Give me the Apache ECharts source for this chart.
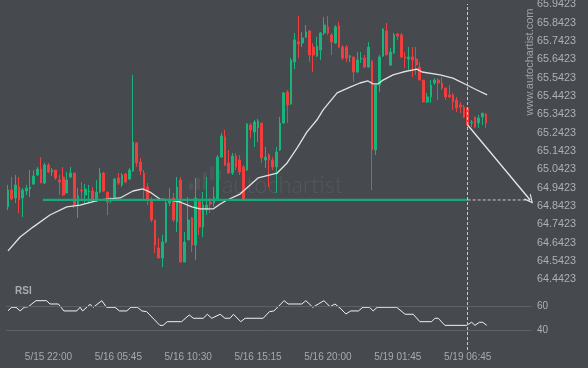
<!DOCTYPE html>
<html><head><meta charset="utf-8">
<script src="https://cdn.jsdelivr.net/npm/echarts@6/dist/echarts.min.js"></script>
<style>html,body{margin:0;padding:0;background:#46494d;}#c{width:588px;height:368px;}</style>
</head><body><div id="c"></div>
<script>
// ---- Data (15-minute candles) ----
const openP = [64.837,64.929,64.886,64.946,64.886,64.924,64.935,64.962,65.011,65.044,
64.967,65.066,65.028,65.038,64.984,65.000,64.913,65.000,65.022,64.847,
64.929,64.902,64.918,64.924,64.869,64.918,65.022,64.918,64.869,64.875,
64.995,64.957,65.017,64.989,65.033,65.186,65.082,65.022,64.946,64.875,
64.766,64.613,64.558,64.646,64.858,64.886,64.755,64.984,64.536,64.657,
64.777,64.629,64.875,64.727,64.820,64.864,64.858,64.875,65.109,65.219,
65.077,65.022,65.115,65.093,65.055,65.038,65.284,65.246,65.268,65.295,
65.093,65.120,65.093,65.055,65.148,65.295,65.464,65.399,65.628,65.737,
65.731,65.764,65.797,65.709,65.660,65.693,65.786,65.819,65.775,65.731,
65.824,65.709,65.709,65.655,65.655,65.573,65.644,65.649,65.600,65.633,
65.148,65.502,65.660,65.797,65.611,65.677,65.780,65.775,65.655,65.644,
65.655,65.644,65.600,65.529,65.409,65.437,65.513,65.529,65.513,65.486,
65.448,65.448,65.420,65.393,65.382,65.377,65.295,65.328,65.295,65.328,65.344];
const closeP = [64.929,64.880,64.957,64.875,64.929,64.940,64.946,65.006,65.044,64.967,
65.066,65.028,65.038,64.995,64.973,64.902,64.984,65.022,64.847,64.897,
64.924,64.935,64.924,64.875,64.918,65.022,64.924,64.864,64.880,64.989,
64.967,65.011,64.973,65.038,65.191,65.077,65.033,64.929,64.875,64.766,
64.629,64.558,64.646,64.858,64.875,64.766,64.946,64.536,64.646,64.766,
64.629,64.886,64.727,64.847,64.847,64.853,64.891,65.109,65.224,65.066,
65.022,65.115,65.055,65.028,64.875,65.289,65.257,65.300,65.306,65.104,
65.109,65.093,65.055,65.137,65.295,65.459,65.393,65.639,65.748,65.726,
65.759,65.791,65.666,65.666,65.715,65.786,65.829,65.786,65.737,65.819,
65.709,65.649,65.649,65.660,65.573,65.639,65.649,65.600,65.709,65.148,
65.502,65.655,65.808,65.666,65.682,65.775,65.769,65.655,65.649,65.655,
65.639,65.611,65.529,65.409,65.437,65.502,65.529,65.513,65.486,65.437,
65.437,65.409,65.377,65.382,65.328,65.284,65.300,65.273,65.322,65.349,65.295];
const lowP = [64.820,64.875,64.858,64.804,64.782,64.902,64.891,64.957,65.006,64.967,
64.962,65.022,65.006,64.984,64.902,64.897,64.913,64.995,64.831,64.777,
64.875,64.858,64.858,64.864,64.864,64.913,64.918,64.793,64.858,64.869,
64.957,64.946,64.967,64.984,65.028,65.055,65.011,64.875,64.847,64.755,
64.586,64.558,64.509,64.640,64.842,64.755,64.700,64.536,64.536,64.657,
64.591,64.547,64.684,64.673,64.793,64.804,64.837,64.869,65.104,65.060,
65.017,65.011,65.038,65.011,64.869,65.033,65.213,65.164,65.191,65.077,
65.049,64.946,65.038,64.913,65.142,65.289,65.295,65.393,65.589,65.649,
65.709,65.759,65.628,65.573,65.655,65.639,65.775,65.775,65.666,65.726,
65.704,65.639,65.628,65.628,65.519,65.568,65.622,65.595,65.595,64.929,
65.120,65.464,65.655,65.666,65.606,65.671,65.748,65.649,65.595,65.584,
65.546,65.557,65.529,65.409,65.404,65.404,65.502,65.420,65.475,65.420,
65.431,65.366,65.355,65.349,65.322,65.284,65.273,65.268,65.268,65.284,65.268];
const highP = [64.957,65.000,65.011,65.000,64.940,64.957,65.038,65.038,65.055,65.109,
65.077,65.077,65.049,65.038,65.011,65.055,65.028,65.055,65.022,64.940,
64.973,64.962,64.957,64.946,64.984,65.049,65.028,64.918,64.891,64.995,
65.022,65.022,65.022,65.049,65.557,65.191,65.104,65.038,64.967,64.891,
64.766,64.667,64.684,64.875,64.940,64.913,65.000,65.000,64.700,64.891,
64.782,64.995,64.875,64.918,65.000,64.886,64.946,65.120,65.240,65.257,
65.148,65.131,65.131,65.120,65.066,65.295,65.295,65.311,65.317,65.295,
65.164,65.131,65.109,65.164,65.328,65.464,65.475,65.649,65.786,65.879,
65.791,65.829,65.802,65.731,65.764,65.791,65.873,65.879,65.786,65.829,
65.846,65.720,65.720,65.666,65.655,65.682,65.682,65.666,65.737,65.639,
65.502,65.666,65.813,65.840,65.704,65.786,65.786,65.786,65.682,65.709,
65.709,65.709,65.628,65.529,65.459,65.529,65.540,65.540,65.546,65.486,
65.502,65.459,65.437,65.409,65.393,65.377,65.311,65.328,65.339,65.349,65.349];

// moving average: positions in candle units
const maPos = [0,3.3,6.8,11.4,16.0,19.6,25.0,30.5,34.0,36.7,38.6,41.3,44.1,46.8,50.0,52.2,55.8,57.7,59.6,63.1,68.0,73.2,75.9,78.6,81.3,84.0,85.7,89.5,93.0,95.7,97.9,99.3,100.6,102.0,104.7,107.4,111.2,112.6,117.5,121.0,124.8,127.5,130.3];
const maVal = [64.597,64.673,64.727,64.793,64.837,64.847,64.875,64.886,64.924,64.935,64.918,64.880,64.875,64.864,64.837,64.826,64.826,64.853,64.875,64.907,64.995,65.022,65.077,65.158,65.246,65.311,65.366,65.459,65.491,65.513,65.524,65.508,65.508,65.529,65.557,65.573,65.589,65.573,65.557,65.540,65.502,65.475,65.448];

// RSI
const rsiPos = [0,1.0,2.2,3.3,4.4,5.5,7.6,10.5,11.4,13.7,15.2,18.7,19.6,20.3,22.3,23.2,25.5,26.8,29.1,30.3,32.3,33.4,35.2,36.4,37.7,41.3,42.2,43.3,47.2,49.3,50.4,53.1,54.2,55.4,57.7,59.0,60.4,61.3,63.3,64.5,69.4,71.1,72.3,75.1,76.2,79.9,81.0,82.9,84.4,85.9,87.6,88.9,90.3,91.9,93.2,95.3,96.5,98.3,99.3,100.4,105.7,108.0,110.2,112.0,115.2,116.1,117.0,118.8,124.7,126.1,127.0,128.2,129.1,130.2];
const rsiVal = [56.6,59.5,59.5,56.4,59.5,60,65.1,65.1,62.3,62.3,56.4,56.4,59.5,56.4,62,59.5,65.1,59.5,59.5,56.4,56.4,59.5,59.5,56.4,55.8,44.2,44.2,47.3,47.3,53,50.2,50.2,53.6,50.2,53.6,50.2,50.2,53.6,47.3,50.2,50.2,55.8,56.4,65.1,62.3,62.3,65.1,59.5,62.3,65.1,60,62.3,58.9,53.8,56.4,56.4,59.5,59.5,56.4,59.5,59.5,53.6,53.6,47.3,47.3,50.2,50.2,44.2,44.2,46.8,44.2,46.8,46.8,44.2];

// pattern / forecast
const levelPrice = 64.875;
const levelStart = 9.5;
const signalIndex = 125;
const signalPrice = 65.284;
const targetIndex = 142;

// ticks
const yTicks = [64.4423,64.5423,64.6423,64.7423,64.8423,64.9423,65.0423,65.1423,65.2423,65.3423,65.4423,65.5423,65.6423,65.7423,65.8423,65.9423];
const rsiTicks = [40, 60];
const tickLabels = ['5/15 22:00','5/16 05:45','5/16 10:30','5/16 15:15','5/16 20:00','5/19 01:45','5/19 06:45'];
const tickIndex = [11,30,49,68,87,106,125];

const futureSlots = 12;
const slotCount = openP.length + futureSlots;
const cats = [];
for (let i = 0; i < slotCount; i++) cats.push(String(i));
const candles = openP.map((o, i) => [o, closeP[i], lowP[i], highP[i]]);

const GREEN = '#19b47c', RED = '#f23d3d', LABEL = '#aeb1b4';
const gl = 6.16, gr = 56;
const chevron = 'path://M50,0 L100,100 L86,100 L50,28 L14,100 L0,100 Z';

const chart = echarts.init(document.getElementById('c'), null, {renderer: 'canvas'});
chart.setOption({
  animation: false,
  backgroundColor: '#46494d',
  textStyle: {fontFamily: 'Liberation Sans, Arial, sans-serif'},
  grid: [
    {left: gl, right: gr, top: 4.3, height: 275, containLabel: false, outerBoundsMode: 'none'},
    {left: gl, right: gr, top: 294.9, height: 47.2, containLabel: false, outerBoundsMode: 'none'},
    {left: gl, right: gr, top: 4, height: 346, containLabel: false, outerBoundsMode: 'none'}
  ],
  xAxis: [
    {type: 'category', gridIndex: 0, data: cats, show: false, boundaryGap: true},
    {type: 'value', gridIndex: 0, min: -0.5, max: slotCount - 0.5, show: false},
    {type: 'category', gridIndex: 1, data: cats, boundaryGap: true,
      axisLine: {show: false}, axisTick: {show: false}, splitLine: {show: false},
      axisLabel: {interval: (idx) => tickIndex.indexOf(idx) >= 0,
        formatter: (v, idx) => { const k = tickIndex.indexOf(idx); return k >= 0 ? tickLabels[k] : ''; },
        color: '#a7aaad', fontSize: 10, margin: 10, hideOverlap: false}},
    {type: 'value', gridIndex: 1, min: -0.5, max: slotCount - 0.5, show: false},
    {type: 'value', gridIndex: 2, min: -0.5, max: slotCount - 0.5, show: false}
  ],
  yAxis: [
    {type: 'value', gridIndex: 0, position: 'right', min: yTicks[0], max: yTicks[yTicks.length - 1], scale: true,
      axisLine: {show: false}, axisTick: {show: false}, splitLine: {show: false},
      axisLabel: {customValues: yTicks, formatter: (v) => v.toFixed(4), color: LABEL, fontSize: 10.8, margin: 5}},
    {type: 'value', gridIndex: 1, position: 'right', min: 30, max: 70,
      axisLine: {show: false}, axisTick: {show: false}, splitLine: {show: false},
      axisLabel: {customValues: rsiTicks, color: LABEL, fontSize: 10, margin: 5}},
    {type: 'value', gridIndex: 2, min: 0, max: 1, show: false}
  ],
  series: [
    {type: 'candlestick', xAxisIndex: 0, yAxisIndex: 0, data: candles, barWidth: 2.2,
      itemStyle: {color: GREEN, color0: RED, borderColor: GREEN, borderColor0: RED, borderWidth: 1}},
    {type: 'line', xAxisIndex: 1, yAxisIndex: 0, data: maPos.map((x, k) => [x, maVal[k]]),
      symbol: 'none', lineStyle: {color: '#e2e2e2', width: 1.3}, z: 3},
    {type: 'line', xAxisIndex: 1, yAxisIndex: 0, data: [[levelStart, levelPrice], [signalIndex, levelPrice]],
      symbol: 'none', lineStyle: {color: '#1aa87a', width: 2.2}, z: 4},
    {type: 'line', xAxisIndex: 1, yAxisIndex: 0, data: [[signalIndex, levelPrice], [targetIndex, levelPrice]],
      symbol: 'none', lineStyle: {color: '#c9c9c9', width: 1, type: [3, 2]}, z: 4,
      markLine: {silent: true, symbol: ['none', chevron], symbolSize: [9, 9], label: {show: false},
        lineStyle: {color: '#e6e6e6', width: 1.3, type: 'solid'},
        data: [[{coord: [signalIndex, signalPrice]}, {coord: [targetIndex, levelPrice]}]]}},
    {type: 'line', xAxisIndex: 3, yAxisIndex: 1, data: rsiPos.map((x, k) => [x, rsiVal[k]]),
      symbol: 'none', lineStyle: {color: '#f2f2f2', width: 1}, z: 3,
      markLine: {silent: true, symbol: ['none', 'none'], label: {show: false},
        lineStyle: {color: '#5d6064', width: 1, type: 'solid'},
        data: rsiTicks.map(v => ({yAxis: v}))}},
    {type: 'line', xAxisIndex: 4, yAxisIndex: 2, data: [],
      markLine: {silent: true, symbol: ['none', 'none'], label: {show: false},
        lineStyle: {color: '#c9c9c9', width: 1, type: [3, 2]},
        data: [{xAxis: signalIndex}]}}
  ],
  graphic: [
    {type: 'group', silent: true, z: 0, children: [
      {type: 'rect', shape: {x: 189, y: 183, width: 4, height: 7, r: 1.5}, style: {fill: '#505357'}},
      {type: 'rect', shape: {x: 196, y: 178, width: 4, height: 12, r: 1.5}, style: {fill: '#505357'}},
      {type: 'rect', shape: {x: 203, y: 172, width: 4, height: 18, r: 1.5}, style: {fill: '#505357'}},
      {type: 'rect', shape: {x: 210, y: 166, width: 4, height: 14, r: 1.5}, style: {fill: '#505357'}},
      {type: 'rect', shape: {x: 217, y: 170, width: 4, height: 10, r: 1.5}, style: {fill: '#505357'}}
    ]},
    {type: 'text', silent: true, z: 0, x: 222, y: 185,
      style: {text: 'autochartist', fill: '#55585c', font: '300 23.5px Lato, sans-serif', textVerticalAlign: 'middle'}},
    {type: 'text', silent: true, x: 530, y: 62, rotation: Math.PI / 2,
      style: {text: 'www.autochartist.com', fill: '#a1a4a7', font: '11px Liberation Sans, Arial, sans-serif',
        textAlign: 'center', textVerticalAlign: 'middle'}},
    {type: 'text', silent: true, x: 15, y: 291,
      style: {text: 'RSI', fill: '#a9acaf', font: 'bold 10px Liberation Sans, Arial, sans-serif', textVerticalAlign: 'middle'}}
  ]
});
</script>
</body></html>
